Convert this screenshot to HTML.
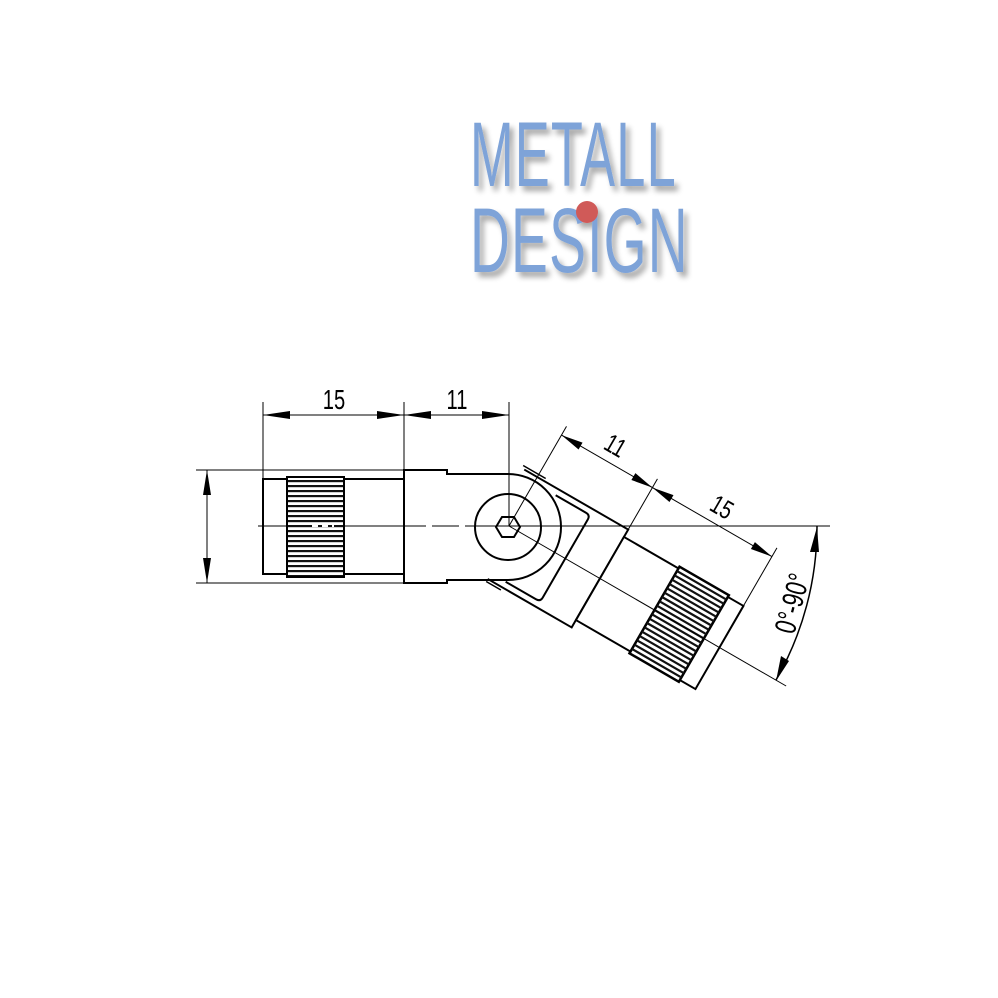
<!DOCTYPE html>
<html><head><meta charset="utf-8"><style>
html,body{margin:0;padding:0;background:#fff;}
svg{display:block;}
</style></head><body>
<svg width="998" height="998" viewBox="0 0 998 998" xmlns="http://www.w3.org/2000/svg">
<defs>
<pattern id="kn" x="0" y="0" width="6" height="5" patternUnits="userSpaceOnUse">
<rect width="6" height="5" fill="#fff"/><rect y="0" width="6" height="2.2" fill="#111"/>
</pattern>
<filter id="sh" x="-20%" y="-20%" width="140%" height="140%">
<feGaussianBlur in="SourceAlpha" stdDeviation="3"/><feOffset dx="4" dy="5"/>
<feComponentTransfer><feFuncA type="linear" slope="0.35"/></feComponentTransfer>
<feMerge><feMergeNode/><feMergeNode in="SourceGraphic"/></feMerge>
</filter>
</defs>

<g filter="url(#sh)" font-family="Liberation Sans, sans-serif" fill="#7ea3d8">
<text x="470" y="186" font-size="92" transform="translate(470 186) scale(0.57 1) translate(-470 -186)" letter-spacing="2">METALL</text>
<text x="470" y="272" font-size="92" transform="translate(470 272) scale(0.6 1) translate(-470 -272)" letter-spacing="2">DESIGN</text>
<circle cx="587" cy="212" r="11" fill="#d05a58"/>
</g>

<g stroke="#000" fill="none" stroke-linecap="butt">
<line x1="263" y1="402" x2="263" y2="479" stroke-width="1"/>
<line x1="404" y1="402" x2="404" y2="470" stroke-width="1"/>
<line x1="509" y1="402" x2="509" y2="526" stroke-width="1"/>
<line x1="263" y1="415" x2="509" y2="415" stroke-width="1"/>
<line x1="196" y1="470" x2="404" y2="470" stroke-width="1"/>
<line x1="196" y1="583" x2="404" y2="583" stroke-width="1"/>
<line x1="207" y1="470" x2="207" y2="583" stroke-width="1"/>
<line x1="258" y1="526" x2="830" y2="526" stroke-width="1"/>

<rect x="263" y="479" width="141" height="95" stroke-width="2"/>
<rect x="287" y="477" width="57" height="100" fill="url(#kn)" stroke-width="2"/>
<line x1="312" y1="526" x2="334" y2="526" stroke="#fff" stroke-width="2" stroke-dasharray="6 4"/>
</g>

<g transform="translate(509 526) rotate(30)" stroke="#000" fill="none">
<path d="M-15 -56.5 L105 -56.5 L105 56.5 L8 56.5" stroke-width="2"/>
<path d="M-18 -59.5 L8 -59.5" stroke-width="1.5"/>
<path d="M8 59.5 L25 59.5" stroke-width="1.5"/>
<path d="M25 -50 L60 -50 Q65 -50 65 -45 L65 45 Q65 50 60 50 L25 50" stroke-width="2"/>
<rect x="105" y="-48" width="138" height="96" stroke-width="2" fill="#fff"/>
<rect x="168" y="-50" width="57" height="100" fill="#fff" stroke-width="2.5"/>
<g stroke="#111" stroke-width="2.2">
<line x1="168" y1="-45" x2="225" y2="-45"/><line x1="168" y1="-40" x2="225" y2="-40"/><line x1="168" y1="-35" x2="225" y2="-35"/><line x1="168" y1="-30" x2="225" y2="-30"/><line x1="168" y1="-25" x2="225" y2="-25"/><line x1="168" y1="-20" x2="225" y2="-20"/><line x1="168" y1="-15" x2="225" y2="-15"/><line x1="168" y1="-10" x2="225" y2="-10"/><line x1="168" y1="-5" x2="225" y2="-5"/><line x1="168" y1="0" x2="225" y2="0"/><line x1="168" y1="5" x2="225" y2="5"/><line x1="168" y1="10" x2="225" y2="10"/><line x1="168" y1="15" x2="225" y2="15"/><line x1="168" y1="20" x2="225" y2="20"/><line x1="168" y1="25" x2="225" y2="25"/><line x1="168" y1="30" x2="225" y2="30"/><line x1="168" y1="35" x2="225" y2="35"/><line x1="168" y1="40" x2="225" y2="40"/><line x1="168" y1="45" x2="225" y2="45"/>
</g>
<line x1="0" y1="0" x2="320" y2="0" stroke-width="1"/>
<line x1="0" y1="0" x2="0" y2="-115" stroke-width="1"/>
<line x1="105" y1="-56" x2="105" y2="-115" stroke-width="1"/>
<line x1="243" y1="-48" x2="243" y2="-115" stroke-width="1"/>
<line x1="0" y1="-105" x2="243" y2="-105" stroke-width="1"/>
<g fill="#000" stroke="none">
<polygon points="0,-105 22,-109 22,-101"/><polygon points="105,-105 83,-109 83,-101"/>
<polygon points="105,-105 127,-109 127,-101"/><polygon points="243,-105 221,-109 221,-101"/>
</g>
<text x="52" y="-114" font-family="Liberation Sans, sans-serif" font-size="26" fill="#000" stroke="none" text-anchor="middle" transform="translate(52 -114) scale(0.75 1) translate(-52 114)">11</text>
<text x="175" y="-114" font-family="Liberation Sans, sans-serif" font-size="26" fill="#000" stroke="none" text-anchor="middle" transform="translate(175 -114) scale(0.75 1) translate(-175 114)">15</text>
</g>

<path d="M404 470 H447 V474 H508 A53 53 0 0 1 508 580 H447 V583 H404 Z" stroke="#000" stroke-width="2" fill="none"/>
<line x1="404" y1="526" x2="470" y2="526" stroke="#fff" stroke-width="2" stroke-dasharray="0 22 6 5"/>

<g stroke="#000" fill="none" stroke-width="2">
<circle cx="508" cy="527" r="33"/>
<polygon points="520,527 514,517 502,517 496,527 502,537 514,537"/>
</g>

<g fill="#000">
<polygon points="263,415 290,411 290,419"/><polygon points="404,415 377,411 377,419"/>
<polygon points="404,415 431,411 431,419"/><polygon points="509,415 482,411 482,419"/>
<polygon points="207,470 203,495 211,495"/><polygon points="207,583 203,558 211,558"/>
</g>
<g font-family="Liberation Sans, sans-serif" font-size="28" fill="#000" text-anchor="middle">
<text x="334" y="409" transform="translate(334 409) scale(0.72 1) translate(-334 -409)">15</text>
<text x="457" y="409" transform="translate(457 409) scale(0.72 1) translate(-457 -409)">11</text>
</g>

<path d="M817 526 A308 308 0 0 1 776 680" stroke="#000" fill="none" stroke-width="1.5"/>
<polygon points="817,527 810,552 819,552" fill="#000"/>
<polygon points="776,681 781,656 789,661" fill="#000"/>
<text x="0" y="0" font-family="Liberation Sans, sans-serif" font-size="30" fill="#000" text-anchor="middle" transform="translate(802 606) rotate(-75) scale(0.72 1)">0°-90°</text>
</svg>
</body></html>
